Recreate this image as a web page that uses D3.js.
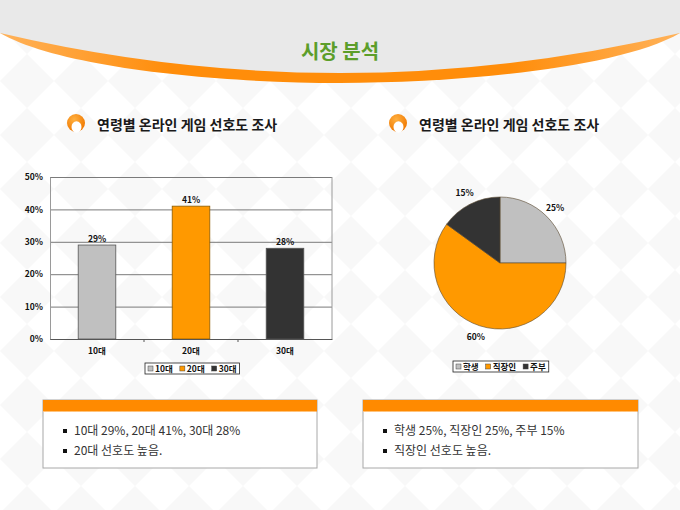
<!DOCTYPE html>
<html>
<head>
<meta charset="utf-8">
<script src="https://cdn.jsdelivr.net/npm/d3@7"></script>
<style>
  body { margin: 0; background: #fff; }
  svg { display: block; }
  text { font-family: "Noto Sans CJK KR", "Noto Sans", sans-serif; }
</style>
</head>
<body>
<div id="chart"></div>
<script>
// 데이터
const ageLabels = ['10대', '20대', '30대'];
const ageValues = [29, 41, 28];
const ageColors = ['#c0c0c0', '#ff9900', '#333333'];
const percentTicks = [0, 10, 20, 30, 40, 50];

const jobLabels = ['학생', '직장인', '주부'];
const jobValues = [25, 60, 15];
const jobColors = ['#c0c0c0', '#ff9900', '#333333'];

const pageTitle = '시장 분석';
const sectionTitle = '연령별 온라인 게임 선호도 조사';
const noteLeft = ['10대 29%, 20대 41%, 30대 28%', '20대 선호도 높음.'];
const noteRight = ['학생 25%, 직장인 25%, 주부 15%', '직장인 선호도 높음.'];

const width = 680, height = 510;

const svg = d3.select('#chart')
    .append('svg')
    .attr('width', width)
    .attr('height', height);

const defs = svg.append('defs');

// 배경 다이아몬드 패턴
const pattern = defs.append('pattern')
    .attr('id', 'diamonds')
    .attr('patternUnits', 'userSpaceOnUse')
    .attr('width', 54).attr('height', 54);
pattern.append('rect').attr('width', 54).attr('height', 54).attr('fill', '#ffffff');
pattern.append('polygon').attr('points', '27,0 54,27 27,54 0,27').attr('fill', '#f8f8f8');

const orangeGrad = defs.append('linearGradient').attr('id', 'orangeBand');
orangeGrad.append('stop').attr('offset', '0%').attr('stop-color', '#ffb25a');
orangeGrad.append('stop').attr('offset', '25%').attr('stop-color', '#ff8d0a');
orangeGrad.append('stop').attr('offset', '75%').attr('stop-color', '#ff8d0a');
orangeGrad.append('stop').attr('offset', '100%').attr('stop-color', '#ffb25a');

const iconGrad = defs.append('radialGradient').attr('id', 'iconGrad')
    .attr('cx', '40%').attr('cy', '30%').attr('r', '70%');
iconGrad.append('stop').attr('offset', '0%').attr('stop-color', '#ffb040');
iconGrad.append('stop').attr('offset', '100%').attr('stop-color', '#f07800');

svg.append('rect').attr('width', width).attr('height', height).attr('fill', 'url(#diamonds)');

// 상단 헤더
svg.append('path')
    .attr('d', 'M0,33 C60,68 220,83 340,83 C460,83 620,68 680,33 L680,0 L0,0 Z')
    .attr('fill', 'url(#orangeBand)');
svg.append('path')
    .attr('d', 'M0,0 H680 V33 Q340,113 0,33 Z')
    .attr('fill', '#e9e9e9');

svg.append('text')
    .attr('x', 340).attr('y', 59)
    .attr('text-anchor', 'middle')
    .attr('font-size', 20).attr('font-weight', 'bold')
    .attr('fill', '#5c9e2a')
    .text(pageTitle);

// 섹션 제목
const drawSectionTitle = (cx, tx) => {
    const g = svg.append('g');
    g.append('circle').attr('cx', cx).attr('cy', 123).attr('r', 9).attr('fill', 'url(#iconGrad)');
    g.append('ellipse').attr('cx', cx + 0.5).attr('cy', 127).attr('rx', 5).attr('ry', 5.8).attr('fill', '#ffffff');
    g.append('text')
        .attr('x', tx).attr('y', 130)
        .attr('font-size', 14).attr('font-weight', 'bold')
        .attr('fill', '#1a1a1a')
        .text(sectionTitle);
};
drawSectionTitle(76, 97);
drawSectionTitle(398, 419);

// 범례
const drawLegend = (x0, y0, labels, colors) => {
    const g = svg.append('g');
    const box = g.append('rect')
        .attr('x', x0).attr('y', y0).attr('height', 11)
        .attr('fill', '#fff').attr('stroke', '#222').attr('stroke-width', 0.8);
    let cx = x0 + 3;
    labels.forEach((label, i) => {
        g.append('rect')
            .attr('x', cx).attr('y', y0 + 3).attr('width', 5).attr('height', 5)
            .attr('fill', colors[i]).attr('stroke', '#444').attr('stroke-width', 0.5);
        const t = g.append('text')
            .attr('x', cx + 7).attr('y', y0 + 8.6)
            .attr('font-size', 8.5).attr('font-weight', 'bold')
            .attr('fill', '#111')
            .text(label);
        cx += 7 + t.node().getComputedTextLength() + 7;
    });
    box.attr('width', cx - x0 - 4);
};

// 막대 차트
const plot = {left: 50, right: 332, top: 177, bottom: 339};

const x = d3.scaleBand()
    .domain(ageLabels)
    .range([plot.left, plot.right])
    .paddingInner(0.6)
    .paddingOuter(0.3);

const y = d3.scaleLinear()
    .domain([0, 50])
    .range([plot.bottom, plot.top]);

const barChart = svg.append('g');

// 그리드
barChart.append('g')
    .attr('transform', `translate(${plot.left},0)`)
    .call(d3.axisLeft(y).tickValues(percentTicks).tickSize(-(plot.right - plot.left)).tickFormat(''))
    .call(g => g.select('.domain').remove())
    .call(g => g.selectAll('line').attr('stroke', '#7a7a7a').attr('stroke-width', 1));

// 오른쪽 테두리
barChart.append('line')
    .attr('x1', plot.right).attr('x2', plot.right)
    .attr('y1', plot.top).attr('y2', plot.bottom)
    .attr('stroke', '#9a9a9a');

// y축
barChart.append('g')
    .attr('transform', `translate(${plot.left},0)`)
    .call(d3.axisLeft(y).tickValues(percentTicks).tickSize(0).tickPadding(7).tickFormat(d => d + '%'))
    .call(g => g.select('.domain').attr('stroke', '#9a9a9a'))
    .call(g => g.selectAll('text')
        .attr('font-size', 8.5).attr('font-weight', 'bold').attr('fill', '#111')
        .style('font-family', '"Noto Sans CJK KR", sans-serif'));

// 막대
barChart.append('g')
    .selectAll('rect')
    .data(ageValues)
    .join('rect')
    .attr('x', (d, i) => x(ageLabels[i]))
    .attr('y', d => y(d))
    .attr('width', x.bandwidth())
    .attr('height', d => y(0) - y(d))
    .attr('fill', (d, i) => ageColors[i])
    .attr('stroke', (d, i) => i === 1 ? '#8a5a00' : '#555')
    .attr('stroke-width', 0.8);

// 데이터 레이블
barChart.append('g')
    .selectAll('text')
    .data(ageValues)
    .join('text')
    .attr('x', (d, i) => x(ageLabels[i]) + x.bandwidth() / 2)
    .attr('y', d => y(d) - 3.5)
    .attr('text-anchor', 'middle')
    .attr('font-size', 8.5).attr('font-weight', 'bold').attr('fill', '#111')
    .text(d => d + '%');

// x축
barChart.append('g')
    .attr('transform', `translate(0,${plot.bottom})`)
    .call(d3.axisBottom(x).tickSize(0).tickPadding(9))
    .call(g => g.select('.domain').attr('stroke', '#555'))
    .call(g => g.selectAll('text')
        .attr('font-size', 8.5).attr('font-weight', 'bold').attr('fill', '#111')
        .style('font-family', '"Noto Sans CJK KR", sans-serif'));

// 카테고리 경계 눈금
barChart.append('g')
    .selectAll('line')
    .data(ageLabels.slice(1))
    .join('line')
    .attr('x1', d => x(d) - x.step() * x.paddingInner() / 2)
    .attr('x2', d => x(d) - x.step() * x.paddingInner() / 2)
    .attr('y1', plot.bottom).attr('y2', plot.bottom + 3)
    .attr('stroke', '#555');

drawLegend(145, 363, ageLabels, ageColors);

// 원 차트
const pieCenter = {x: 500, y: 263};
const radius = 66;

const pie = d3.pie().sort(null).value(d => d);
const arcs = pie(jobValues);
const arc = d3.arc().innerRadius(0).outerRadius(radius);
const labelArc = d3.arc().innerRadius(78).outerRadius(78);

const pieG = svg.append('g').attr('transform', `translate(${pieCenter.x},${pieCenter.y})`);

pieG.selectAll('path')
    .data(arcs)
    .join('path')
    .attr('d', arc)
    .attr('fill', (d, i) => jobColors[i])
    .attr('stroke', '#5a4a30')
    .attr('stroke-width', 0.6);

pieG.selectAll('text')
    .data(arcs)
    .join('text')
    .attr('transform', d => `translate(${labelArc.centroid(d)})`)
    .attr('dy', '0.35em')
    .attr('text-anchor', 'middle')
    .attr('font-size', 8.5).attr('font-weight', 'bold').attr('fill', '#111')
    .text(d => d.data + '%');

drawLegend(453, 361, jobLabels, jobColors);

// 설명 상자
const drawNote = (x0, w, lines) => {
    const g = svg.append('g');
    g.append('rect')
        .attr('x', x0).attr('y', 400).attr('width', w).attr('height', 68)
        .attr('fill', '#fff').attr('stroke', '#a8a8a8');
    g.append('rect')
        .attr('x', x0).attr('y', 400).attr('width', w).attr('height', 11.5)
        .attr('fill', '#ff8a00');
    g.append('line')
        .attr('x1', x0).attr('x2', x0 + w)
        .attr('y1', 411.5).attr('y2', 411.5)
        .attr('stroke', '#ffc27a').attr('stroke-dasharray', '3,2');
    lines.forEach((line, i) => {
        const cy = 431 + i * 20;
        g.append('rect')
            .attr('x', x0 + 20).attr('y', cy - 2).attr('width', 4).attr('height', 4)
            .attr('fill', '#111');
        g.append('text')
            .attr('x', x0 + 31).attr('y', cy + 4.3)
            .attr('font-size', 12).attr('fill', '#333')
            .text(line);
    });
};
drawNote(43, 274, noteLeft);
drawNote(363, 275, noteRight);
</script>
</body>
</html>
